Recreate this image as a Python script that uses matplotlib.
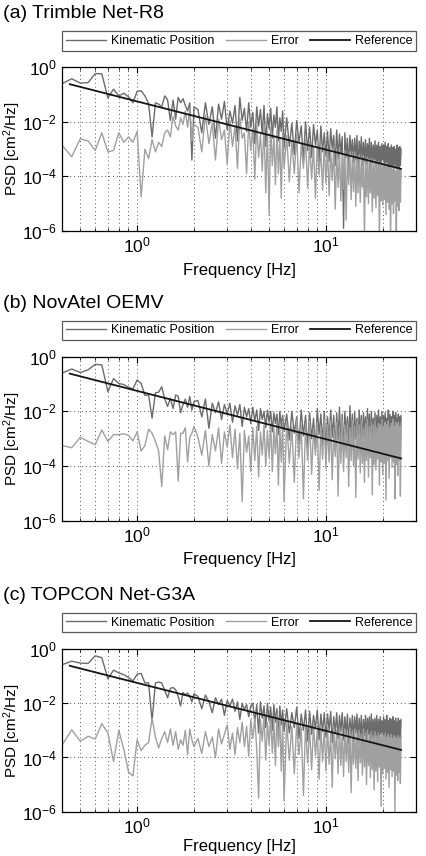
import numpy as np
import matplotlib.pyplot as plt
from matplotlib.ticker import FixedLocator, NullFormatter, NullLocator

plt.rcParams['font.family'] = ['Liberation Sans', 'DejaVu Sans']
plt.rcParams['mathtext.fontset'] = 'custom'
plt.rcParams['mathtext.rm'] = 'Liberation Sans'
plt.rcParams['mathtext.it'] = 'Liberation Sans:italic'
plt.rcParams['mathtext.bf'] = 'Liberation Sans:bold'
plt.rcParams['mathtext.default'] = 'regular'

# frequency grid [Hz]: 0.05 Hz steps below 2 Hz, thinned out above
freq = np.concatenate([np.arange(0.40, 2.001, 0.05),
                       np.arange(2.1, 6.001, 0.1),
                       np.arange(6.2, 25.001, 0.2)])

# reference power law, end points
ref_f = [0.44, 25.0]
ref_psd = [0.24, 1.9e-4]

titles = ['(a) Trimble Net-R8', '(b) NovAtel OEMV', '(c) TOPCON Net-G3A']

# PSD values as log10 [cm^2/Hz]
# ---- (a) Trimble
kin_a_low = [-0.60, -0.42, -0.58, -0.56, -0.23, -0.24, -1.12, -0.80, -1.05, -0.95,
             -1.08, -1.30, -0.88, -0.86, -1.05, -1.33, -2.55, -1.30, -1.35, -1.45,
             -1.05, -1.20, -1.95, -1.20, -1.90, -1.10, -1.30, -1.15, -1.40, -1.60,
             -1.30, -3.40, -1.45]
kin_a_mid = [-1.55, -2.40, -1.30, -2.10, -1.45, -2.60, -1.35, -1.90, -1.25, -2.30,
             -1.60, -2.05, -1.40, -2.70, -1.10, -1.95, -1.50, -2.35, -1.30, -2.20,
             -1.65, -2.80, -1.45, -2.15, -1.55, -2.45, -1.40, -2.90, -1.70, -2.25,
             -1.50, -2.60, -1.75, -2.20, -1.45, -2.70, -1.85, -2.35, -1.60, -2.95]
kin_a_high = [-1.85, -2.90, -2.05, -3.20, -1.95, -2.75, -2.15, -3.40, -2.00, -3.05,
              -2.20, -3.30, -2.10, -2.85, -2.30, -3.55, -2.15, -3.10, -2.40, -3.25,
              -2.35, -3.45, -2.25, -3.00, -2.50, -3.60, -2.30, -3.35, -2.45, -3.15,
              -2.55, -5.90, -2.40, -3.30, -2.60, -3.70, -2.50, -3.20, -2.65, -3.50,
              -2.60, -3.40, -2.50, -3.75, -2.70, -3.30, -2.55, -3.60, -2.75, -3.45,
              -2.65, -3.55, -2.80, -3.35, -2.60, -3.80, -2.75, -3.50, -2.85, -3.40,
              -2.70, -3.65, -2.85, -3.45, -2.75, -3.70, -2.90, -3.55, -2.80, -3.40,
              -2.85, -3.75, -2.75, -3.50, -2.90, -3.65, -2.80, -3.85, -2.95, -3.55,
              -2.85, -3.60, -2.95, -3.80, -2.90, -3.55, -3.00, -3.70, -2.85, -3.65,
              -2.95, -3.75, -2.90, -3.60, -3.00]
err_a_low = [-2.85, -3.28, -2.62, -2.70, -3.05, -2.40, -3.10, -3.05, -2.40, -2.75,
             -2.55, -2.75, -2.35, -4.75, -3.00, -3.35, -2.65, -3.10, -2.75, -2.90,
             -2.40, -2.30, -2.55, -1.80, -2.15, -2.30, -1.85, -2.10, -1.60, -2.20,
             -1.50, -2.70, -2.10]
err_a_mid = [-2.20, -3.10, -1.75, -2.80, -2.05, -3.40, -1.90, -2.65, -2.30, -3.55,
             -1.95, -2.90, -2.15, -3.70, -1.85, -2.60, -2.40, -3.90, -2.00, -3.05,
             -2.25, -4.10, -2.05, -3.30, -2.45, -3.80, -2.10, -4.60, -2.35, -5.40,
             -2.20, -3.60, -2.50, -4.30, -2.30, -3.90, -2.60, -4.80, -2.40, -3.70]
err_a_high = [-2.50, -4.20, -2.70, -3.90, -2.45, -4.60, -2.80, -3.70, -2.65, -4.40,
              -2.75, -4.10, -2.90, -4.80, -2.70, -3.95, -3.00, -4.50, -2.85, -4.25,
              -2.95, -4.70, -3.05, -4.15, -2.90, -5.20, -3.10, -4.40, -3.00, -4.90,
              -3.15, -4.45, -3.05, -5.60, -3.20, -4.30, -3.10, -4.85, -3.25, -4.55,
              -3.10, -5.10, -3.30, -4.60, -3.20, -4.95, -3.35, -4.40, -3.25, -6.20,
              -3.40, -4.75, -3.30, -5.00, -3.45, -4.60, -3.35, -5.30, -3.50, -4.80,
              -3.40, -5.15, -3.55, -4.70, -3.45, -6.30, -3.60, -4.90, -3.50, -5.05,
              -3.55, -4.85, -3.65, -5.40, -3.50, -4.95, -3.70, -5.20, -3.60, -6.40,
              -3.65, -5.00, -3.75, -5.35, -3.60, -4.90, -3.80, -6.10, -3.70, -5.10,
              -3.75, -5.25, -3.70, -4.95, -3.80]

# ---- (b) NovAtel
kin_b_low = [-0.60, -0.45, -0.58, -0.48, -0.28, -0.30, -1.28, -0.80, -0.98, -1.02,
             -1.12, -1.18, -0.85, -0.98, -1.42, -1.40, -2.25, -1.32, -1.30, -1.10,
             -1.55, -1.82, -1.52, -1.90, -1.40, -1.45, -2.05, -1.75, -1.55, -1.85,
             -1.45, -1.95, -1.65]
kin_b_mid = [-1.60, -2.20, -1.55, -2.62, -1.70, -2.05, -1.65, -2.30, -1.75, -2.10,
             -1.70, -2.40, -1.80, -2.15, -1.75, -2.55, -1.85, -2.20, -1.90, -2.45,
             -1.85, -2.35, -1.95, -2.70, -1.90, -2.30, -2.00, -2.60, -1.95, -2.40,
             -2.00, -2.75, -2.05, -2.45, -2.10, -2.85, -2.00, -2.55, -2.15, -2.70]
kin_b_high = [-2.10, -3.05, -2.00, -2.80, -2.20, -3.20, -1.95, -2.90, -2.15, -3.30,
              -2.05, -3.00, -2.25, -3.40, -1.90, -2.85, -2.10, -3.15, -2.00, -3.35,
              -2.20, -3.10, -1.95, -2.95, -2.15, -3.45, -2.05, -3.05, -1.85, -3.25,
              -2.10, -3.50, -2.00, -2.90, -2.20, -3.20, -1.80, -3.05, -2.10, -3.40,
              -2.00, -3.00, -2.25, -3.35, -1.95, -3.10, -2.15, -3.55, -2.05, -2.95,
              -2.20, -3.25, -1.90, -3.05, -2.10, -3.45, -2.00, -3.15, -2.25, -3.00,
              -2.05, -3.35, -2.15, -3.10, -1.95, -3.50, -2.20, -3.05, -2.00, -3.30,
              -2.15, -3.15, -2.05, -3.45, -2.25, -3.00, -1.95, -3.35, -2.10, -3.20,
              -2.20, -3.40, -2.00, -3.10, -2.15, -3.50, -2.05, -3.25, -2.25, -3.35,
              -2.10, -3.20, -2.20, -3.45, -2.15]
err_b_low = [-3.25, -3.33, -2.95, -3.10, -3.22, -2.68, -3.10, -2.85, -2.85, -2.82,
             -2.88, -3.08, -2.75, -3.45, -3.25, -2.65, -2.80, -3.10, -3.45, -4.75,
             -2.90, -3.40, -2.75, -2.85, -2.75, -4.55, -2.80, -2.80, -2.60, -3.85,
             -2.95, -2.80, -2.55]
err_b_mid = [-2.95, -3.60, -2.70, -4.00, -2.85, -3.45, -2.60, -3.90, -2.75, -3.30,
             -2.50, -3.70, -2.65, -4.10, -2.80, -5.30, -2.70, -3.50, -2.90, -4.20,
             -2.60, -3.80, -2.55, -4.40, -2.75, -3.60, -2.50, -4.00, -2.70, -3.70,
             -2.45, -4.20, -2.60, -3.55, -2.40, -4.70, -2.55, -3.85, -2.35, -5.30]
err_b_high = [-2.40, -3.90, -2.55, -4.60, -2.30, -3.70, -2.50, -5.20, -2.45, -3.80,
              -2.35, -4.30, -2.60, -3.60, -2.40, -4.90, -2.55, -3.75, -2.30, -4.10,
              -2.50, -3.85, -2.35, -4.50, -2.60, -3.65, -2.40, -5.10, -2.55, -3.90,
              -2.30, -4.20, -2.50, -3.70, -2.45, -4.75, -2.60, -3.80, -2.35, -4.00,
              -2.55, -5.15, -2.40, -3.75, -2.50, -4.25, -2.35, -3.90, -2.60, -4.60,
              -2.45, -3.80, -2.30, -4.40, -2.55, -3.70, -2.40, -5.05, -2.50, -3.95,
              -2.35, -4.15, -2.60, -3.75, -2.45, -4.70, -2.50, -3.85, -2.30, -4.30,
              -2.55, -3.90, -2.40, -5.25, -2.50, -3.80, -2.35, -4.45, -2.60, -3.70,
              -2.45, -4.05, -2.30, -3.85, -2.55, -5.20, -2.40, -3.95, -2.50, -4.35,
              -2.40, -3.80, -2.55, -5.10, -2.45]

# ---- (c) TOPCON
kin_c_low = [-0.58, -0.45, -0.52, -0.53, -0.25, -0.32, -1.10, -0.78, -0.88, -0.95,
             -1.05, -1.18, -0.93, -0.90, -1.25, -1.25, -2.65, -1.25, -1.22, -1.25,
             -1.52, -1.80, -1.45, -1.42, -1.50, -1.75, -2.10, -1.60, -1.70, -1.62,
             -1.75, -1.95, -1.65]
kin_c_mid = [-1.75, -2.20, -1.70, -1.95, -2.35, -1.80, -2.05, -1.85, -2.45, -1.90,
             -2.10, -1.85, -2.30, -1.95, -2.60, -2.00, -2.25, -2.05, -2.50, -2.10,
             -2.00, -2.70, -2.05, -3.10, -1.95, -2.55, -2.10, -2.90, -2.00, -2.65,
             -2.15, -3.00, -2.05, -2.70, -2.20, -3.20, -2.10, -2.80, -2.25, -3.05]
kin_c_high = [-2.20, -3.10, -2.35, -2.90, -2.15, -3.30, -2.40, -3.00, -2.25, -3.40,
              -2.30, -3.15, -2.45, -2.95, -2.25, -3.35, -2.40, -3.05, -2.35, -3.25,
              -2.40, -3.00, -2.30, -3.45, -2.50, -3.10, -2.35, -3.30, -2.45, -3.05,
              -2.35, -3.35, -2.50, -3.15, -2.40, -3.50, -2.55, -3.20, -2.45, -3.40,
              -2.50, -3.10, -2.40, -3.45, -2.55, -3.25, -2.45, -3.55, -2.60, -3.20,
              -2.45, -3.40, -2.55, -3.15, -2.50, -3.50, -2.40, -3.30, -2.60, -3.45,
              -2.55, -3.25, -2.45, -3.60, -2.60, -3.35, -2.50, -3.15, -2.65, -3.50,
              -2.50, -3.40, -2.60, -3.30, -2.45, -3.55, -2.65, -3.25, -2.55, -3.45,
              -2.60, -3.35, -2.50, -3.60, -2.65, -3.30, -2.55, -3.50, -2.70, -3.40,
              -2.55, -3.45, -2.65, -3.35, -2.60]
err_c_low = [-3.55, -2.98, -3.40, -3.22, -3.32, -2.75, -3.10, -4.15, -3.00, -3.70,
             -4.53, -4.68, -3.35, -3.75, -3.55, -3.45, -2.55, -3.25, -3.65, -3.30,
             -3.05, -3.45, -2.95, -3.55, -3.05, -3.70, -3.35, -3.55, -3.00, -3.90,
             -2.95, -3.35, -3.60]
err_c_mid = [-3.30, -3.85, -3.05, -3.60, -3.25, -4.00, -2.95, -3.50, -3.15, -2.80,
             -3.70, -3.10, -3.90, -2.90, -3.45, -2.70, -3.60, -2.85, -3.95, -2.60,
             -3.30, -2.55, -3.70, -5.50, -2.60, -3.40, -2.45, -4.10, -2.70, -3.55,
             -2.50, -3.85, -2.65, -4.30, -2.40, -3.60, -2.55, -4.50, -2.70, -5.60]
err_c_high = [-2.70, -4.10, -2.85, -4.60, -2.75, -3.90, -2.90, -5.40, -2.80, -4.20,
              -2.95, -4.45, -2.80, -3.95, -3.00, -4.80, -2.85, -4.15, -2.95, -4.50,
              -2.90, -4.25, -3.05, -5.10, -2.85, -4.05, -3.00, -4.60, -2.90, -4.30,
              -3.05, -4.70, -2.95, -4.15, -3.10, -4.55, -2.90, -5.30, -3.05, -4.25,
              -2.95, -4.40, -3.10, -4.85, -3.00, -4.20, -3.15, -4.65, -2.95, -4.35,
              -3.10, -5.00, -3.00, -4.30, -3.15, -4.75, -3.05, -4.45, -3.20, -5.20,
              -3.05, -4.50, -3.20, -4.90, -3.10, -4.35, -3.25, -5.80, -3.10, -4.60,
              -3.20, -4.40, -3.10, -4.80, -3.25, -4.55, -3.15, -5.10, -3.30, -4.45,
              -3.15, -4.70, -3.30, -4.50, -3.20, -6.00, -3.25, -4.65, -3.35, -4.85,
              -3.20, -4.55, -3.30, -4.95, -3.25]

kin = [kin_a_low + kin_a_mid + kin_a_high,
       kin_b_low + kin_b_mid + kin_b_high,
       kin_c_low + kin_c_mid + kin_c_high]
err = [err_a_low + err_a_mid + err_a_high,
       err_b_low + err_b_mid + err_b_high,
       err_c_low + err_c_mid + err_c_high]

W, H = 426, 856
fig = plt.figure(figsize=(W / 100, H / 100), dpi=100)

# pixel boxes of the three axes: (top, bottom), and title centre line
ax_top_bot = [(67.3, 231.0), (356.7, 520.7), (649.0, 811.7)]
title_y = [14, 303, 596]
xlab_gap = [32, 31, 27]
left, right = 62, 416

for i in range(3):
    top, bot = ax_top_bot[i]
    ax = fig.add_axes([left / W, 1 - bot / H, (right - left) / W, (bot - top) / H])

    ax.plot(freq, 10 ** np.array(kin[i]), color='#6c6c6c', lw=1.0, label='Kinematic Position')
    ax.plot(freq, 10 ** np.array(err[i]), color='#a0a0a0', lw=1.0, label='Error')
    ax.plot(ref_f, ref_psd, color='#151515', lw=1.3, label='Reference')

    ax.set_xscale('log')
    ax.set_yscale('log')
    ax.set_xlim(0.4, 30)
    ax.set_ylim(1e-6, 1)

    ax.set_xticks([1, 10])
    ax.xaxis.set_minor_locator(FixedLocator([0.4, 0.5, 0.6, 0.7, 0.8, 0.9,
                                             2, 3, 4, 5, 6, 7, 8, 9, 20, 30]))
    ax.xaxis.set_minor_formatter(NullFormatter())
    ax.set_yticks([1e-6, 1e-4, 1e-2, 1])
    ax.yaxis.set_minor_locator(NullLocator())

    ax.tick_params(which='both', direction='in', top=True, right=True, labelsize=12.5)
    ax.tick_params(which='major', length=4)
    ax.tick_params(which='minor', length=2)
    ax.grid(True, which='major', axis='both', color='0.35', ls=(0, (1, 3)), lw=0.7)
    ax.grid(True, which='minor', axis='x', color='0.35', ls=(0, (1, 3)), lw=0.7)
    for s in ax.spines.values():
        s.set_linewidth(0.9)

    ax.set_xlabel('Frequency [Hz]', fontsize=12)
    ax.set_ylabel('PSD [cm$^2$/Hz]', fontsize=11)
    ax.xaxis.set_label_coords(0.5, -xlab_gap[i] / (bot - top))
    ax.xaxis.label.set_va('top')
    ax.yaxis.set_label_coords(-(left - 23) / (right - left), 0.5)

    leg = ax.legend(loc='lower left', bbox_to_anchor=(0, 1 + 16.6 / (bot - top), 1, 21 / (bot - top)),
                    mode='expand', ncol=3, fontsize=9, frameon=True, fancybox=False,
                    edgecolor='0.35', framealpha=1, borderpad=0.3, handlelength=3.2,
                    handletextpad=0.4, columnspacing=0.6, borderaxespad=0)
    leg.get_frame().set_linewidth(0.9)

    fig.text(3 / W, 1 - title_y[i] / H, titles[i], fontsize=14, ha='left', va='center')

fig.savefig('out.png', dpi=100)
